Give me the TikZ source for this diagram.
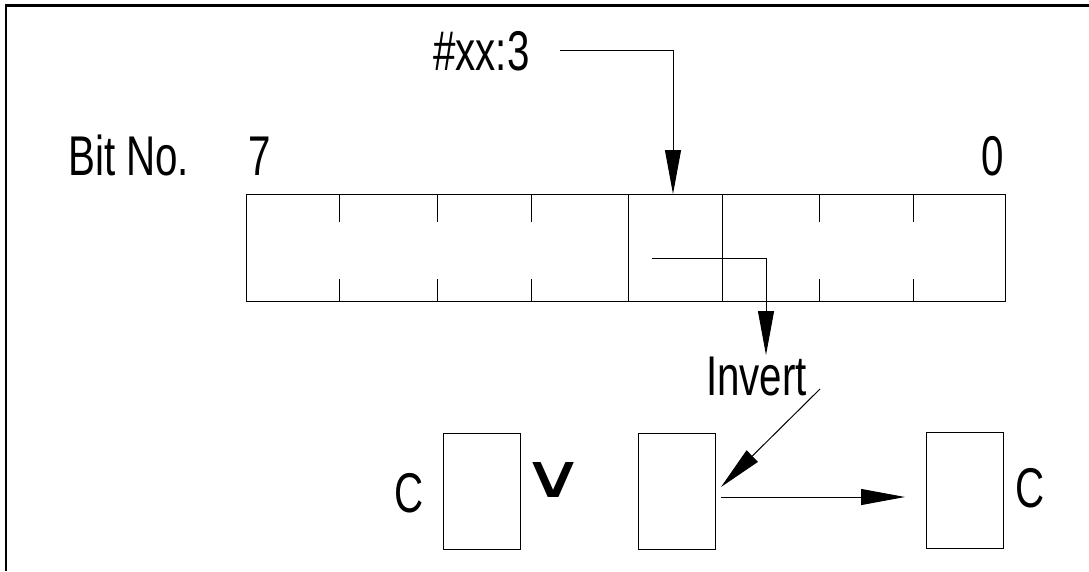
\documentclass[tikz,border=0pt]{standalone}
\usepackage{fontspec}
\usepackage{graphicx}
\setmainfont{Liberation Sans}
\newfontfamily\cond[FakeStretch=0.72]{Liberation Sans}
\newfontfamily\symf{DejaVu Sans}
\usetikzlibrary{arrows.meta}
\begin{document}
\begin{tikzpicture}[x=1pt,y=-1pt,
  thin line/.style={line width=1pt},
  lbl/.style={inner sep=0pt,anchor=base west,font=\cond\fontsize{56}{60}\selectfont},
  reg/.style={thin line,draw},
  flag/.style={thin line,draw,minimum width=77pt,minimum height=116pt,inner sep=0pt},
  arr/.style={thin line,-{Triangle[length=44pt,width=16pt]}}]
\useasboundingbox (0,0) rectangle (1089,571);
% frame
\draw[line width=2.5pt] (6,571) -- (6,5.5) -- (1089,5.5);
% labels
\node[lbl] (bitno) at (68,175) {Bit No.};
\node[lbl] (b7) at (248,175) {7};
\node[lbl] (b0) at (981,175) {0};
\node[lbl] (imm) at (433,70) {\#xx:3};
\node[lbl] (inv) at (706,395) {Invert};
% register
\coordinate (rtl) at (246,194);
\coordinate (rbr) at (1005,301);
\draw[reg] (rtl) rectangle (rbr);
\foreach \x in {339,437,531,819,913}{
  \draw[thin line] (\x,194) -- (\x,222);
  \draw[thin line] (\x,279) -- (\x,301);
}
\coordinate (d4t) at (628,194); \coordinate (d4b) at (628,301);
\coordinate (d3t) at (722,194); \coordinate (d3b) at (722,301);
\draw[thin line] (d4t) -- (d4b);
\draw[thin line] (d3t) -- (d3b);
% #xx:3 pointer
\coordinate (immstart) at (560,50);
\coordinate (bit3top) at (673,194);
\draw[arr] (immstart) -| (bit3top);
% bit out
\coordinate (bitin) at (652,258);
\coordinate (bitout) at (766,355);
\draw[arr] (bitin) -| (bitout);
% flag boxes
\node[flag] (c1) at (481.5,491) {};
\node[flag] (bx) at (676.5,491) {};
\node[flag] (c2) at (965,490.5) {};
\node[lbl] (cl) at (394,512) {C};
\node[lbl] (cr) at (1015,507) {C};
\node[inner sep=0pt,anchor=base] (orop) at (554,497) {\resizebox{64pt}{35pt}{\symf ∨}};
% invert arrow
\coordinate (invfrom) at (820,389);
\coordinate (invto) at (721,487);
\draw[arr] (invfrom) -- (invto);
% result arrow
\coordinate (resfrom) at (721,497);
\coordinate (resto) at (905,497);
\draw[arr] (resfrom) -- (resto);
\end{tikzpicture}
\end{document}
